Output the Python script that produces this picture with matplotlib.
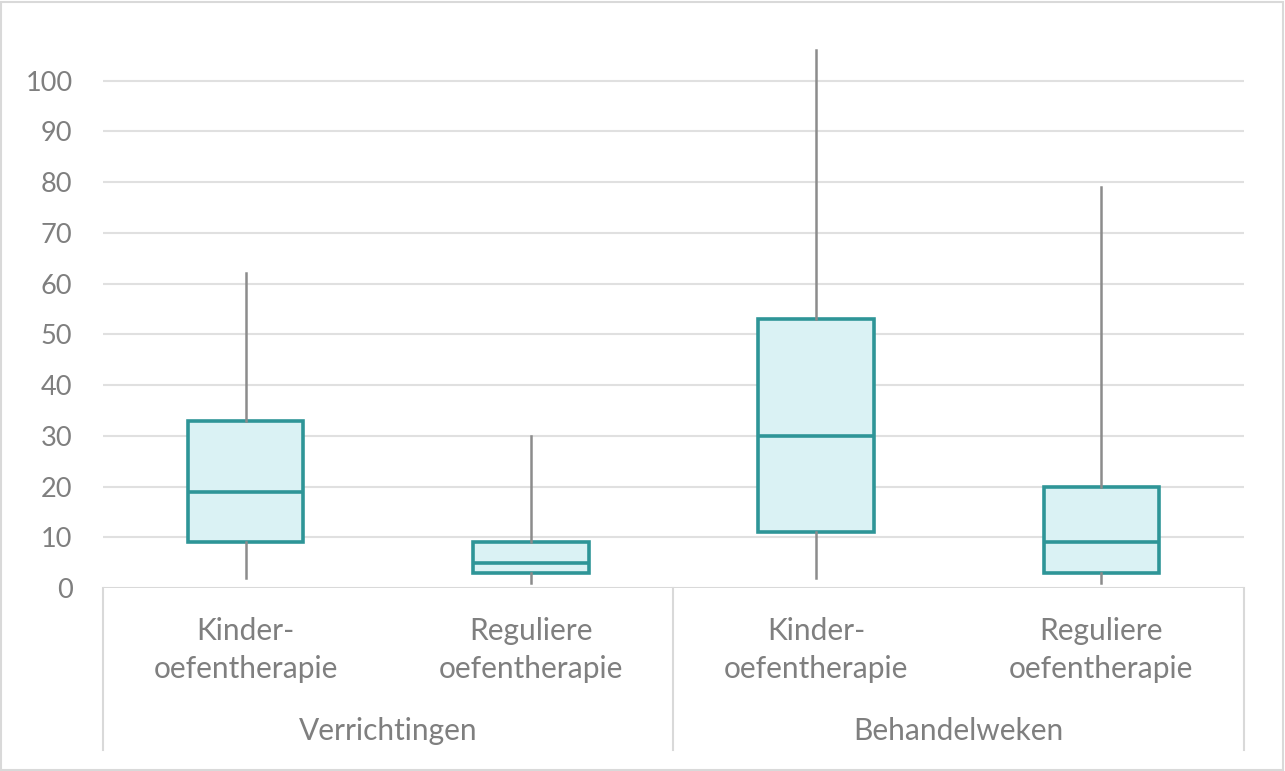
import matplotlib
matplotlib.use("Agg")
import matplotlib.pyplot as plt
from matplotlib.patches import Rectangle
from matplotlib.lines import Line2D

plt.rcParams['font.family'] = ['Lato', 'DejaVu Sans']

categories = ["Kinder-\noefentherapie", "Reguliere\noefentherapie",
              "Kinder-\noefentherapie", "Reguliere\noefentherapie"]
groups = ["Verrichtingen", "Behandelweken"]
whislo = [2, 1, 2, 1]
q1 = [9, 3, 11, 3]
med = [19, 5, 30, 9]
q3 = [33, 9, 53, 20]
whishi = [62, 30, 106, 79]
yticks = list(range(0, 101, 10))

W, H = 1285, 771
fig = plt.figure(figsize=(W / 100, H / 100), dpi=100)
x0, x1 = 103, 1244
y0, ytop = 588, 30
ax = fig.add_axes([x0 / W, (H - y0) / H, (x1 - x0) / W, (y0 - ytop) / H])

teal = "#2E9597"
fill = "#DAF2F4"
wgray = "#8C8C8C"
grid = "#E0E0E0"
txt = "#7F7F7F"
fs_y = 19.5
fs = 21.5

stats = []
for i in range(4):
    stats.append(dict(whislo=whislo[i], q1=q1[i], med=med[i], q3=q3[i],
                      whishi=whishi[i], fliers=[]))
pos = [0, 1, 2, 3]
ax.bxp(stats, positions=pos, widths=0.405, patch_artist=True, showcaps=False,
       showfliers=False,
       boxprops=dict(facecolor=fill, edgecolor=teal, linewidth=2.6),
       medianprops=dict(color=teal, linewidth=2.6),
       whiskerprops=dict(color=wgray, linewidth=1.8))

ax.set_xlim(-0.5, 3.5)
ax.set_ylim(0, 110)
ax.set_yticks(yticks)
ax.set_yticklabels([str(t) for t in yticks], fontsize=fs_y, color=txt)
ax.tick_params(axis='y', length=0, pad=22)
ax.set_xticks([])
for t in yticks[1:]:
    ax.axhline(t, color=grid, linewidth=1.5, zorder=0)
for s in ax.spines.values():
    s.set_visible(False)
ax.axhline(0, color="#D9D9D9", linewidth=1.5, zorder=0.5)

# category axis structure
sep_bottom = 750
for xp in [x0, 673, x1]:
    fig.add_artist(Line2D([xp / W, xp / W], [(H - y0) / H, (H - sep_bottom) / H],
                          color="#D9D9D9", linewidth=1.5))
for i, c in enumerate(categories):
    fig.text((x0 + (i + 0.5) * (x1 - x0) / 4) / W, (H - 650) / H, c,
             ha='center', va='center', fontsize=fs, color=txt, linespacing=1.45)
for g, name in enumerate(groups):
    fig.text((x0 + (g * 2 + 1) * (x1 - x0) / 4) / W, (H - 731) / H, name,
             ha='center', va='center', fontsize=fs, color=txt)

fig.add_artist(Rectangle((1 / W, 1 / H), (W - 3) / W, (H - 3) / H, fill=False,
                         edgecolor="#D9D9D9", linewidth=1.5, transform=fig.transFigure))

fig.savefig("out.png", dpi=100, facecolor="white")
